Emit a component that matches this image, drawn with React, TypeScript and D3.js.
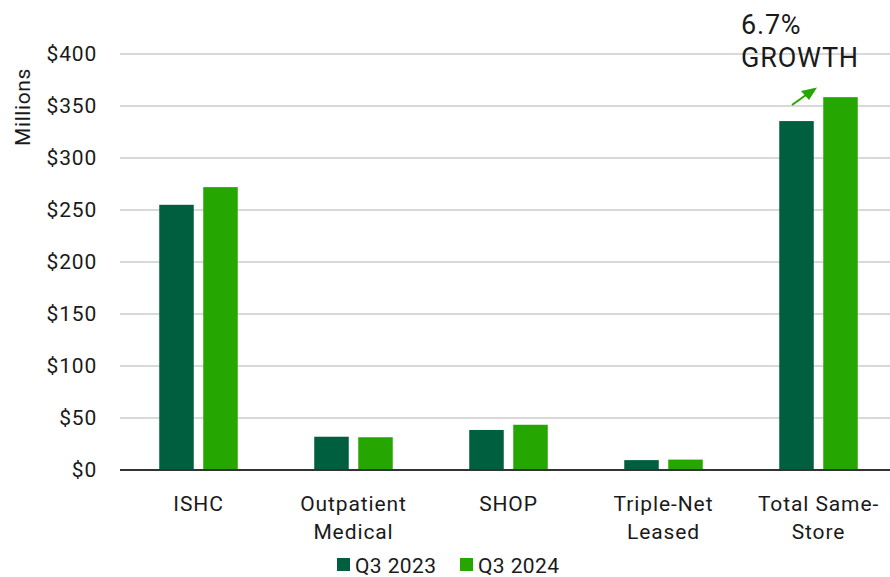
import React from "react";
import * as d3 from "d3";

const categories: string[][] = [["ISHC"], ["Outpatient", "Medical"], ["SHOP"], ["Triple-Net", "Leased"], ["Total Same-", "Store"]];
const seriesNames = ["Q3 2023", "Q3 2024"];
const q3_2023 = [255, 32, 38.5, 9.5, 335.5];
const q3_2024 = [272, 31.5, 43.5, 10, 358.5];
const yTicks = [0, 50, 100, 150, 200, 250, 300, 350, 400];
const colors = ["#005f3f", "#26a600"];
const FONT = "Roboto, 'Noto Sans', sans-serif";

export default function App() {
  const W = 890, H = 577;
  const x0 = 121, x1 = 896;
  const y = d3.scaleLinear().domain([0, 400]).range([470, 54]);
  const xb = d3.scaleBand().domain(categories.map((_, i) => String(i))).range([x0, x1]).paddingInner(0).paddingOuter(0);
  const bw = 34.5, gap = 9.5;
  const series = [q3_2023, q3_2024];
  return (
    <svg width={W} height={H} style={{ position: "absolute", left: 0, top: 0, background: "#fff" }} fontFamily={FONT}>
      {yTicks.map(t => (
        <g key={t}>
          {t > 0 && <line x1={120} x2={W} y1={y(t)} y2={y(t)} stroke="#d9d9d9" strokeWidth={2} />}
          <text x={97} y={y(t)} dy="0.35em" textAnchor="end" fontSize={21} fill="#1a1a1a" letterSpacing={0.8}>{"$" + t}</text>
        </g>
      ))}
      <text transform={`translate(30,107) rotate(-90)`} textAnchor="middle" fontSize={21} fill="#1a1a1a" letterSpacing={0.6}>Millions</text>
      {categories.map((c, i) => {
        const cx = xb(String(i))! + xb.bandwidth() / 2;
        return (
          <g key={i}>
            {series.map((s, j) => {
              const bx = j === 0 ? cx - gap / 2 - bw : cx + gap / 2;
              return <rect key={j} x={bx} y={y(s[i])} width={bw} height={y(0) - y(s[i])} fill={colors[j]} />;
            })}
            {c.map((line, k) => (
              <text key={k} x={cx} y={511 + k * 28} textAnchor="middle" fontSize={21} fill="#1a1a1a" letterSpacing={0.9}>{line}</text>
            ))}
          </g>
        );
      })}
      <line x1={120} x2={W} y1={y(0)} y2={y(0)} stroke="#333" strokeWidth={2} />
      {/* growth annotation */}
      <text x={741} y={34} fontSize={27} fill="#1a1a1a" letterSpacing={0.8}>6.7%</text>
      <text x={741} y={67} fontSize={27} fill="#1a1a1a" letterSpacing={0.8}>GROWTH</text>
      <line x1={792} y1={105} x2={808} y2={93.5} stroke={colors[1]} strokeWidth={2} />
      <path d="M817,87.5 L801,91 L809,100 Z" fill={colors[1]} />
      {/* legend */}
      {seriesNames.map((n, j) => (
        <g key={n} transform={`translate(${337 + j * 123},0)`}>
          <rect x={0} y={558} width={13} height={13} fill={colors[j]} />
          <text x={18} y={573} fontSize={21} fill="#1a1a1a" letterSpacing={0.4}>{n}</text>
        </g>
      ))}
    </svg>
  );
}
